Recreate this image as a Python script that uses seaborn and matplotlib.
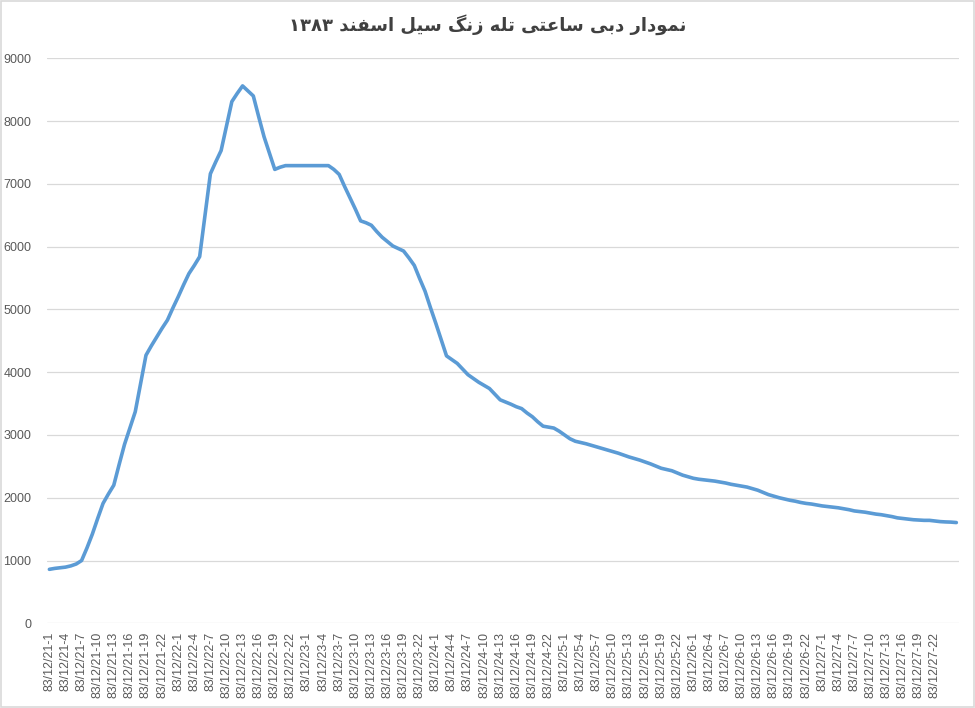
import numpy as np
import pandas as pd
import matplotlib
matplotlib.use("Agg")
import matplotlib.pyplot as plt
import seaborn as sns
from matplotlib.patches import Rectangle

# ---------------- data ----------------
title_text = "نمودار دبی ساعتی تله زنگ سیل اسفند ۱۳۸۳"

days = [21, 22, 23, 24, 25, 26, 27, 28]
hours = list(range(1, 25))

discharge = [
    860, 875, 885, 895, 915, 945, 1000, 1200, 1420, 1670,
    1910, 2060, 2200, 2530, 2850, 3110, 3370, 3820, 4270, 4420,
    4560, 4700, 4830, 5020, 5200, 5390, 5570, 5700, 5840, 6500,
    7160, 7350, 7530, 7920, 8310, 8440, 8560, 8480, 8400, 8070,
    7750, 7490, 7230, 7265, 7290, 7290, 7290, 7290, 7290, 7290,
    7290, 7290, 7290, 7230, 7150, 6960, 6780, 6600, 6410, 6380,
    6340, 6240, 6150, 6080, 6010, 5970, 5930, 5820, 5700, 5490,
    5290, 5030, 4780, 4520, 4260, 4200, 4140, 4050, 3960, 3900,
    3840, 3790, 3740, 3650, 3560, 3525, 3490, 3450, 3420, 3350,
    3290, 3210, 3140, 3125, 3110, 3060, 3000, 2940, 2900, 2880,
    2860, 2835, 2810, 2785, 2760, 2735, 2710, 2680, 2650, 2625,
    2600, 2570, 2540, 2505, 2470, 2450, 2430, 2395, 2360, 2335,
    2310, 2295, 2285, 2275, 2265, 2250, 2235, 2215, 2200, 2185,
    2170, 2145, 2120, 2085, 2050, 2025, 2000, 1980, 1960, 1945,
    1925, 1910, 1900, 1885, 1870, 1860, 1850, 1840, 1825, 1810,
    1790, 1780, 1770, 1755, 1740, 1730, 1715, 1700, 1680, 1670,
    1660, 1650, 1645, 1640, 1640, 1630, 1620, 1615, 1612, 1605,
]

categories = [f"83/12/{d}-{h}" for d in days for h in hours][:len(discharge)]
label_step = 3
last_labeled = 165
y_ticks = [0, 1000, 2000, 3000, 4000, 5000, 6000, 7000, 8000, 9000]

df = pd.DataFrame({"idx": np.arange(len(discharge)), "cat": categories, "q": discharge})

# ---------------- Arabic/Persian shaping helper ----------------
FORMS = {
    "ا": ("\uFE8D", "\uFE8E", None, None),
    "ب": ("\uFE8F", "\uFE90", "\uFE91", "\uFE92"),
    "ت": ("\uFE95", "\uFE96", "\uFE97", "\uFE98"),
    "د": ("\uFEA9", "\uFEAA", None, None),
    "ر": ("\uFEAD", "\uFEAE", None, None),
    "ز": ("\uFEAF", "\uFEB0", None, None),
    "س": ("\uFEB1", "\uFEB2", "\uFEB3", "\uFEB4"),
    "ع": ("\uFEC9", "\uFECA", "\uFECB", "\uFECC"),
    "ف": ("\uFED1", "\uFED2", "\uFED3", "\uFED4"),
    "ل": ("\uFEDD", "\uFEDE", "\uFEDF", "\uFEE0"),
    "م": ("\uFEE1", "\uFEE2", "\uFEE3", "\uFEE4"),
    "ن": ("\uFEE5", "\uFEE6", "\uFEE7", "\uFEE8"),
    "ه": ("\uFEE9", "\uFEEA", "\uFEEB", "\uFEEC"),
    "و": ("\uFEED", "\uFEEE", None, None),
    "ی": ("\uFBFC", "\uFBFD", "\uFBFE", "\uFBFF"),
    "گ": ("\uFB92", "\uFB93", "\uFB94", "\uFB95"),
}


def dual(c):
    return c in FORMS and FORMS[c][2] is not None


def shape_rtl(s):
    out = []
    for i, c in enumerate(s):
        if c not in FORMS:
            out.append(c)
            continue
        prev_j = i > 0 and dual(s[i - 1])
        next_j = dual(c) and i + 1 < len(s) and s[i + 1] in FORMS
        iso, fin, ini, med = FORMS[c]
        if prev_j and next_j:
            out.append(med)
        elif prev_j:
            out.append(fin)
        elif next_j:
            out.append(ini)
        else:
            out.append(iso)
    shaped = "".join(out)
    # visual order: reverse, keeping digit runs left-to-right
    tokens = []
    cur = ""
    cur_digit = None
    for c in shaped:
        isd = c.isdigit()
        if cur and isd != cur_digit:
            tokens.append((cur, cur_digit))
            cur = ""
        cur += c
        cur_digit = isd
    if cur:
        tokens.append((cur, cur_digit))
    vis = ""
    for tok, isd in reversed(tokens):
        vis += tok if isd else tok[::-1]
    return vis


# ---------------- plot ----------------
sns.set_theme(style="white")
plt.rcParams["font.family"] = ["Liberation Sans", "DejaVu Sans"]

fig = plt.figure(figsize=(9.75, 7.08), dpi=100)
ax = fig.add_axes([0.0479, 0.1196, 0.9357, 0.7981])

for yv in y_ticks:
    ax.axhline(yv, color="#D9D9D9", lw=0.9, zorder=0)

sns.lineplot(data=df, x="idx", y="q", ax=ax, color="#5B9BD5", lw=2.6,
             solid_joinstyle="round", solid_capstyle="round", zorder=3)

ax.set_xlim(-0.5, len(discharge) - 0.5)
ax.set_ylim(0, 9000)
tick_idx = list(range(0, last_labeled + 1, label_step))
ax.set_xticks(tick_idx)
ax.set_xticklabels([categories[i] for i in tick_idx], rotation=90,
                   fontsize=8.9, color="#595959")
ax.set_yticks(y_ticks)
ax.set_yticklabels([str(v) for v in y_ticks], fontsize=9, color="#595959")
ax.tick_params(axis="x", length=0, pad=6)
ax.tick_params(axis="y", length=0, pad=11)
ax.set_xlabel("")
ax.set_ylabel("")
for sp in ax.spines.values():
    sp.set_visible(False)

fig.text(0.5, 0.965, shape_rtl(title_text), ha="center", va="center",
         fontsize=13, color="#404040", family=["DejaVu Sans"], fontweight="bold")

fig.patches.append(Rectangle((0.001, 0.001), 0.998, 0.998, transform=fig.transFigure,
                             fill=False, edgecolor="#D9D9D9", lw=1.2))

fig.savefig("out.png", dpi=100)
